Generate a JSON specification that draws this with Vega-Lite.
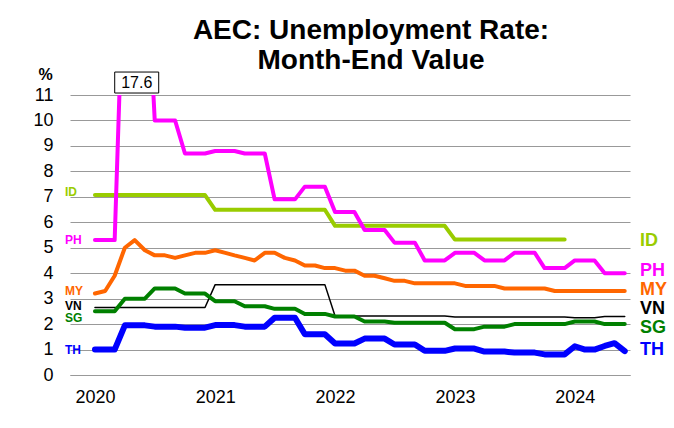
{
"$schema": "https://vega.github.io/schema/vega-lite/v6.json",
"width": 560, "height": 280,
"autosize": {"type": "none"},
"padding": {"left": 70, "top": 95, "right": 44, "bottom": 53},
"background": "white",
"config": {"view": {"stroke": null}, "font": "Liberation Sans"},
"title": {"text": ["AEC: Unemployment Rate:", "Month-End Value"], "font": "Liberation Sans", "fontSize": 28, "fontWeight": "bold", "color": "black", "lineHeight": 30, "anchor": "middle", "dx": 21, "offset": -9},
"datasets": {"main": [
{"series":"ID","date":"2020-01-01","rate":7.07},{"series":"ID","date":"2020-02-01","rate":7.07},{"series":"ID","date":"2020-03-01","rate":7.07},{"series":"ID","date":"2020-04-01","rate":7.07},{"series":"ID","date":"2020-05-01","rate":7.07},{"series":"ID","date":"2020-06-01","rate":7.07},{"series":"ID","date":"2020-07-01","rate":7.07},{"series":"ID","date":"2020-08-01","rate":7.07},{"series":"ID","date":"2020-09-01","rate":7.07},{"series":"ID","date":"2020-10-01","rate":7.07},{"series":"ID","date":"2020-11-01","rate":7.07},{"series":"ID","date":"2020-12-01","rate":7.07},
{"series":"ID","date":"2021-01-01","rate":6.49},{"series":"ID","date":"2021-02-01","rate":6.49},{"series":"ID","date":"2021-03-01","rate":6.49},{"series":"ID","date":"2021-04-01","rate":6.49},{"series":"ID","date":"2021-05-01","rate":6.49},{"series":"ID","date":"2021-06-01","rate":6.49},{"series":"ID","date":"2021-07-01","rate":6.49},{"series":"ID","date":"2021-08-01","rate":6.49},{"series":"ID","date":"2021-09-01","rate":6.49},{"series":"ID","date":"2021-10-01","rate":6.49},{"series":"ID","date":"2021-11-01","rate":6.49},{"series":"ID","date":"2021-12-01","rate":6.49},
{"series":"ID","date":"2022-01-01","rate":5.86},{"series":"ID","date":"2022-02-01","rate":5.86},{"series":"ID","date":"2022-03-01","rate":5.86},{"series":"ID","date":"2022-04-01","rate":5.86},{"series":"ID","date":"2022-05-01","rate":5.86},{"series":"ID","date":"2022-06-01","rate":5.86},{"series":"ID","date":"2022-07-01","rate":5.86},{"series":"ID","date":"2022-08-01","rate":5.86},{"series":"ID","date":"2022-09-01","rate":5.86},{"series":"ID","date":"2022-10-01","rate":5.86},{"series":"ID","date":"2022-11-01","rate":5.86},{"series":"ID","date":"2022-12-01","rate":5.86},
{"series":"ID","date":"2023-01-01","rate":5.32},{"series":"ID","date":"2023-02-01","rate":5.32},{"series":"ID","date":"2023-03-01","rate":5.32},{"series":"ID","date":"2023-04-01","rate":5.32},{"series":"ID","date":"2023-05-01","rate":5.32},{"series":"ID","date":"2023-06-01","rate":5.32},{"series":"ID","date":"2023-07-01","rate":5.32},{"series":"ID","date":"2023-08-01","rate":5.32},{"series":"ID","date":"2023-09-01","rate":5.32},{"series":"ID","date":"2023-10-01","rate":5.32},{"series":"ID","date":"2023-11-01","rate":5.32},{"series":"ID","date":"2023-12-01","rate":5.32},
{"series":"PH","date":"2020-01-01","rate":5.3},{"series":"PH","date":"2020-02-01","rate":5.3},{"series":"PH","date":"2020-03-01","rate":5.3},{"series":"PH","date":"2020-04-01","rate":17.6},{"series":"PH","date":"2020-05-01","rate":17.6},{"series":"PH","date":"2020-06-01","rate":17.6},{"series":"PH","date":"2020-07-01","rate":10.0},{"series":"PH","date":"2020-08-01","rate":10.0},{"series":"PH","date":"2020-09-01","rate":10.0},{"series":"PH","date":"2020-10-01","rate":8.7},{"series":"PH","date":"2020-11-01","rate":8.7},{"series":"PH","date":"2020-12-01","rate":8.7},
{"series":"PH","date":"2021-01-01","rate":8.8},{"series":"PH","date":"2021-02-01","rate":8.8},{"series":"PH","date":"2021-03-01","rate":8.8},{"series":"PH","date":"2021-04-01","rate":8.7},{"series":"PH","date":"2021-05-01","rate":8.7},{"series":"PH","date":"2021-06-01","rate":8.7},{"series":"PH","date":"2021-07-01","rate":6.9},{"series":"PH","date":"2021-08-01","rate":6.9},{"series":"PH","date":"2021-09-01","rate":6.9},{"series":"PH","date":"2021-10-01","rate":7.4},{"series":"PH","date":"2021-11-01","rate":7.4},{"series":"PH","date":"2021-12-01","rate":7.4},
{"series":"PH","date":"2022-01-01","rate":6.4},{"series":"PH","date":"2022-02-01","rate":6.4},{"series":"PH","date":"2022-03-01","rate":6.4},{"series":"PH","date":"2022-04-01","rate":5.7},{"series":"PH","date":"2022-05-01","rate":5.7},{"series":"PH","date":"2022-06-01","rate":5.7},{"series":"PH","date":"2022-07-01","rate":5.2},{"series":"PH","date":"2022-08-01","rate":5.2},{"series":"PH","date":"2022-09-01","rate":5.2},{"series":"PH","date":"2022-10-01","rate":4.5},{"series":"PH","date":"2022-11-01","rate":4.5},{"series":"PH","date":"2022-12-01","rate":4.5},
{"series":"PH","date":"2023-01-01","rate":4.8},{"series":"PH","date":"2023-02-01","rate":4.8},{"series":"PH","date":"2023-03-01","rate":4.8},{"series":"PH","date":"2023-04-01","rate":4.5},{"series":"PH","date":"2023-05-01","rate":4.5},{"series":"PH","date":"2023-06-01","rate":4.5},{"series":"PH","date":"2023-07-01","rate":4.8},{"series":"PH","date":"2023-08-01","rate":4.8},{"series":"PH","date":"2023-09-01","rate":4.8},{"series":"PH","date":"2023-10-01","rate":4.2},{"series":"PH","date":"2023-11-01","rate":4.2},{"series":"PH","date":"2023-12-01","rate":4.2},
{"series":"PH","date":"2024-01-01","rate":4.5},{"series":"PH","date":"2024-02-01","rate":4.5},{"series":"PH","date":"2024-03-01","rate":4.5},{"series":"PH","date":"2024-04-01","rate":4.0},{"series":"PH","date":"2024-05-01","rate":4.0},{"series":"PH","date":"2024-06-01","rate":4.0},
{"series":"MY","date":"2020-01-01","rate":3.2},{"series":"MY","date":"2020-02-01","rate":3.3},{"series":"MY","date":"2020-03-01","rate":3.9},{"series":"MY","date":"2020-04-01","rate":5.0},{"series":"MY","date":"2020-05-01","rate":5.3},{"series":"MY","date":"2020-06-01","rate":4.9},{"series":"MY","date":"2020-07-01","rate":4.7},{"series":"MY","date":"2020-08-01","rate":4.7},{"series":"MY","date":"2020-09-01","rate":4.6},{"series":"MY","date":"2020-10-01","rate":4.7},{"series":"MY","date":"2020-11-01","rate":4.8},{"series":"MY","date":"2020-12-01","rate":4.8},
{"series":"MY","date":"2021-01-01","rate":4.9},{"series":"MY","date":"2021-02-01","rate":4.8},{"series":"MY","date":"2021-03-01","rate":4.7},{"series":"MY","date":"2021-04-01","rate":4.6},{"series":"MY","date":"2021-05-01","rate":4.5},{"series":"MY","date":"2021-06-01","rate":4.8},{"series":"MY","date":"2021-07-01","rate":4.8},{"series":"MY","date":"2021-08-01","rate":4.6},{"series":"MY","date":"2021-09-01","rate":4.5},{"series":"MY","date":"2021-10-01","rate":4.3},{"series":"MY","date":"2021-11-01","rate":4.3},{"series":"MY","date":"2021-12-01","rate":4.2},
{"series":"MY","date":"2022-01-01","rate":4.2},{"series":"MY","date":"2022-02-01","rate":4.1},{"series":"MY","date":"2022-03-01","rate":4.1},{"series":"MY","date":"2022-04-01","rate":3.9},{"series":"MY","date":"2022-05-01","rate":3.9},{"series":"MY","date":"2022-06-01","rate":3.8},{"series":"MY","date":"2022-07-01","rate":3.7},{"series":"MY","date":"2022-08-01","rate":3.7},{"series":"MY","date":"2022-09-01","rate":3.6},{"series":"MY","date":"2022-10-01","rate":3.6},{"series":"MY","date":"2022-11-01","rate":3.6},{"series":"MY","date":"2022-12-01","rate":3.6},
{"series":"MY","date":"2023-01-01","rate":3.6},{"series":"MY","date":"2023-02-01","rate":3.5},{"series":"MY","date":"2023-03-01","rate":3.5},{"series":"MY","date":"2023-04-01","rate":3.5},{"series":"MY","date":"2023-05-01","rate":3.5},{"series":"MY","date":"2023-06-01","rate":3.4},{"series":"MY","date":"2023-07-01","rate":3.4},{"series":"MY","date":"2023-08-01","rate":3.4},{"series":"MY","date":"2023-09-01","rate":3.4},{"series":"MY","date":"2023-10-01","rate":3.4},{"series":"MY","date":"2023-11-01","rate":3.3},{"series":"MY","date":"2023-12-01","rate":3.3},
{"series":"MY","date":"2024-01-01","rate":3.3},{"series":"MY","date":"2024-02-01","rate":3.3},{"series":"MY","date":"2024-03-01","rate":3.3},{"series":"MY","date":"2024-04-01","rate":3.3},{"series":"MY","date":"2024-05-01","rate":3.3},{"series":"MY","date":"2024-06-01","rate":3.3},
{"series":"VN","date":"2020-01-01","rate":2.65},{"series":"VN","date":"2020-02-01","rate":2.65},{"series":"VN","date":"2020-03-01","rate":2.65},{"series":"VN","date":"2020-04-01","rate":2.65},{"series":"VN","date":"2020-05-01","rate":2.65},{"series":"VN","date":"2020-06-01","rate":2.65},{"series":"VN","date":"2020-07-01","rate":2.65},{"series":"VN","date":"2020-08-01","rate":2.65},{"series":"VN","date":"2020-09-01","rate":2.65},{"series":"VN","date":"2020-10-01","rate":2.65},{"series":"VN","date":"2020-11-01","rate":2.65},{"series":"VN","date":"2020-12-01","rate":2.65},
{"series":"VN","date":"2021-01-01","rate":3.55},{"series":"VN","date":"2021-02-01","rate":3.55},{"series":"VN","date":"2021-03-01","rate":3.55},{"series":"VN","date":"2021-04-01","rate":3.55},{"series":"VN","date":"2021-05-01","rate":3.55},{"series":"VN","date":"2021-06-01","rate":3.55},{"series":"VN","date":"2021-07-01","rate":3.55},{"series":"VN","date":"2021-08-01","rate":3.55},{"series":"VN","date":"2021-09-01","rate":3.55},{"series":"VN","date":"2021-10-01","rate":3.55},{"series":"VN","date":"2021-11-01","rate":3.55},{"series":"VN","date":"2021-12-01","rate":3.55},
{"series":"VN","date":"2022-01-01","rate":2.32},{"series":"VN","date":"2022-02-01","rate":2.32},{"series":"VN","date":"2022-03-01","rate":2.32},{"series":"VN","date":"2022-04-01","rate":2.32},{"series":"VN","date":"2022-05-01","rate":2.32},{"series":"VN","date":"2022-06-01","rate":2.32},{"series":"VN","date":"2022-07-01","rate":2.32},{"series":"VN","date":"2022-08-01","rate":2.32},{"series":"VN","date":"2022-09-01","rate":2.32},{"series":"VN","date":"2022-10-01","rate":2.32},{"series":"VN","date":"2022-11-01","rate":2.32},{"series":"VN","date":"2022-12-01","rate":2.32},
{"series":"VN","date":"2023-01-01","rate":2.28},{"series":"VN","date":"2023-02-01","rate":2.28},{"series":"VN","date":"2023-03-01","rate":2.28},{"series":"VN","date":"2023-04-01","rate":2.28},{"series":"VN","date":"2023-05-01","rate":2.28},{"series":"VN","date":"2023-06-01","rate":2.28},{"series":"VN","date":"2023-07-01","rate":2.28},{"series":"VN","date":"2023-08-01","rate":2.28},{"series":"VN","date":"2023-09-01","rate":2.28},{"series":"VN","date":"2023-10-01","rate":2.28},{"series":"VN","date":"2023-11-01","rate":2.28},{"series":"VN","date":"2023-12-01","rate":2.28},
{"series":"VN","date":"2024-01-01","rate":2.25},{"series":"VN","date":"2024-02-01","rate":2.25},{"series":"VN","date":"2024-03-01","rate":2.25},{"series":"VN","date":"2024-04-01","rate":2.3},{"series":"VN","date":"2024-05-01","rate":2.3},{"series":"VN","date":"2024-06-01","rate":2.3},
{"series":"SG","date":"2020-01-01","rate":2.5},{"series":"SG","date":"2020-02-01","rate":2.5},{"series":"SG","date":"2020-03-01","rate":2.5},{"series":"SG","date":"2020-04-01","rate":3.0},{"series":"SG","date":"2020-05-01","rate":3.0},{"series":"SG","date":"2020-06-01","rate":3.0},{"series":"SG","date":"2020-07-01","rate":3.4},{"series":"SG","date":"2020-08-01","rate":3.4},{"series":"SG","date":"2020-09-01","rate":3.4},{"series":"SG","date":"2020-10-01","rate":3.2},{"series":"SG","date":"2020-11-01","rate":3.2},{"series":"SG","date":"2020-12-01","rate":3.2},
{"series":"SG","date":"2021-01-01","rate":2.9},{"series":"SG","date":"2021-02-01","rate":2.9},{"series":"SG","date":"2021-03-01","rate":2.9},{"series":"SG","date":"2021-04-01","rate":2.7},{"series":"SG","date":"2021-05-01","rate":2.7},{"series":"SG","date":"2021-06-01","rate":2.7},{"series":"SG","date":"2021-07-01","rate":2.6},{"series":"SG","date":"2021-08-01","rate":2.6},{"series":"SG","date":"2021-09-01","rate":2.6},{"series":"SG","date":"2021-10-01","rate":2.4},{"series":"SG","date":"2021-11-01","rate":2.4},{"series":"SG","date":"2021-12-01","rate":2.4},
{"series":"SG","date":"2022-01-01","rate":2.3},{"series":"SG","date":"2022-02-01","rate":2.3},{"series":"SG","date":"2022-03-01","rate":2.3},{"series":"SG","date":"2022-04-01","rate":2.1},{"series":"SG","date":"2022-05-01","rate":2.1},{"series":"SG","date":"2022-06-01","rate":2.1},{"series":"SG","date":"2022-07-01","rate":2.05},{"series":"SG","date":"2022-08-01","rate":2.05},{"series":"SG","date":"2022-09-01","rate":2.05},{"series":"SG","date":"2022-10-01","rate":2.05},{"series":"SG","date":"2022-11-01","rate":2.05},{"series":"SG","date":"2022-12-01","rate":2.05},
{"series":"SG","date":"2023-01-01","rate":1.8},{"series":"SG","date":"2023-02-01","rate":1.8},{"series":"SG","date":"2023-03-01","rate":1.8},{"series":"SG","date":"2023-04-01","rate":1.9},{"series":"SG","date":"2023-05-01","rate":1.9},{"series":"SG","date":"2023-06-01","rate":1.9},{"series":"SG","date":"2023-07-01","rate":2.0},{"series":"SG","date":"2023-08-01","rate":2.0},{"series":"SG","date":"2023-09-01","rate":2.0},{"series":"SG","date":"2023-10-01","rate":2.0},{"series":"SG","date":"2023-11-01","rate":2.0},{"series":"SG","date":"2023-12-01","rate":2.0},
{"series":"SG","date":"2024-01-01","rate":2.1},{"series":"SG","date":"2024-02-01","rate":2.1},{"series":"SG","date":"2024-03-01","rate":2.1},{"series":"SG","date":"2024-04-01","rate":2.0},{"series":"SG","date":"2024-05-01","rate":2.0},{"series":"SG","date":"2024-06-01","rate":2.0},
{"series":"TH","date":"2020-01-01","rate":1.0},{"series":"TH","date":"2020-02-01","rate":1.0},{"series":"TH","date":"2020-03-01","rate":1.0},{"series":"TH","date":"2020-04-01","rate":1.95},{"series":"TH","date":"2020-05-01","rate":1.95},{"series":"TH","date":"2020-06-01","rate":1.95},{"series":"TH","date":"2020-07-01","rate":1.9},{"series":"TH","date":"2020-08-01","rate":1.9},{"series":"TH","date":"2020-09-01","rate":1.9},{"series":"TH","date":"2020-10-01","rate":1.86},{"series":"TH","date":"2020-11-01","rate":1.86},{"series":"TH","date":"2020-12-01","rate":1.86},
{"series":"TH","date":"2021-01-01","rate":1.96},{"series":"TH","date":"2021-02-01","rate":1.96},{"series":"TH","date":"2021-03-01","rate":1.96},{"series":"TH","date":"2021-04-01","rate":1.9},{"series":"TH","date":"2021-05-01","rate":1.9},{"series":"TH","date":"2021-06-01","rate":1.9},{"series":"TH","date":"2021-07-01","rate":2.25},{"series":"TH","date":"2021-08-01","rate":2.25},{"series":"TH","date":"2021-09-01","rate":2.25},{"series":"TH","date":"2021-10-01","rate":1.6},{"series":"TH","date":"2021-11-01","rate":1.6},{"series":"TH","date":"2021-12-01","rate":1.6},
{"series":"TH","date":"2022-01-01","rate":1.24},{"series":"TH","date":"2022-02-01","rate":1.24},{"series":"TH","date":"2022-03-01","rate":1.24},{"series":"TH","date":"2022-04-01","rate":1.43},{"series":"TH","date":"2022-05-01","rate":1.43},{"series":"TH","date":"2022-06-01","rate":1.43},{"series":"TH","date":"2022-07-01","rate":1.2},{"series":"TH","date":"2022-08-01","rate":1.2},{"series":"TH","date":"2022-09-01","rate":1.2},{"series":"TH","date":"2022-10-01","rate":0.95},{"series":"TH","date":"2022-11-01","rate":0.95},{"series":"TH","date":"2022-12-01","rate":0.95},
{"series":"TH","date":"2023-01-01","rate":1.04},{"series":"TH","date":"2023-02-01","rate":1.04},{"series":"TH","date":"2023-03-01","rate":1.04},{"series":"TH","date":"2023-04-01","rate":0.92},{"series":"TH","date":"2023-05-01","rate":0.92},{"series":"TH","date":"2023-06-01","rate":0.92},{"series":"TH","date":"2023-07-01","rate":0.88},{"series":"TH","date":"2023-08-01","rate":0.88},{"series":"TH","date":"2023-09-01","rate":0.88},{"series":"TH","date":"2023-10-01","rate":0.81},{"series":"TH","date":"2023-11-01","rate":0.81},{"series":"TH","date":"2023-12-01","rate":0.81},
{"series":"TH","date":"2024-01-01","rate":1.13},{"series":"TH","date":"2024-02-01","rate":1.0},{"series":"TH","date":"2024-03-01","rate":1.0},{"series":"TH","date":"2024-04-01","rate":1.14},{"series":"TH","date":"2024-05-01","rate":1.25},{"series":"TH","date":"2024-06-01","rate":0.94}
]},
"encoding": {
  "x": {"field": "date", "type": "temporal",
    "scale": {"type": "utc", "domain": [{"year": 2019, "month": 10, "date": 17, "utc": true}, {"year": 2024, "month": 6, "date": 17, "utc": true}]},
    "axis": {"title": null, "format": "%Y", "values": [{"year": 2020, "month": 1, "date": 1, "utc": true}, {"year": 2021, "month": 1, "date": 1, "utc": true}, {"year": 2022, "month": 1, "date": 1, "utc": true}, {"year": 2023, "month": 1, "date": 1, "utc": true}, {"year": 2024, "month": 1, "date": 1, "utc": true}],
      "grid": false, "ticks": false, "domain": true, "domainColor": "#999999", "domainWidth": 1,
      "labelFont": "Liberation Sans", "labelFontSize": 18, "labelColor": "black", "labelPadding": 13, "labelFlush": false, "labelOverlap": false}},
  "y": {"field": "rate", "type": "quantitative",
    "scale": {"domain": [0, 11], "nice": false, "zero": true},
    "axis": {"values": [0,1,2,3,4,5,6,7,8,9,10,11], "tickCount": 12, "labelOverlap": false, "grid": true, "gridColor": "#999999", "gridWidth": 1, "domain": false, "ticks": false,
      "labelFont": "Liberation Sans", "labelFontSize": 18, "labelColor": "black", "labelPadding": 17,
      "title": "%", "titleAngle": 0, "titleFont": "Liberation Sans", "titleFontSize": 16, "titleFontWeight": "bold", "titleColor": "black",
      "titleX": -25, "titleY": -21, "titleAlign": "center", "titleBaseline": "middle"}},
  "color": {"field": "series", "type": "nominal", "legend": null,
    "scale": {"domain": ["ID", "PH", "MY", "VN", "SG", "TH"], "range": ["#99CC00", "#FF00FF", "#FF6600", "#000000", "#008000", "#0000FF"]}}
},
"layer": [
  {"data": {"name": "main"},
   "mark": {"type": "line", "clip": true, "strokeCap": "round", "strokeJoin": "round"},
   "encoding": {
     "strokeWidth": {"condition": [{"test": "datum.series === 'VN'", "value": 1.5}, {"test": "datum.series === 'TH'", "value": 6}], "value": 4}
   }},
  {"data": {"name": "main"},
   "transform": [{"window": [{"op": "row_number", "as": "rn"}], "groupby": ["series"], "sort": [{"field": "date", "order": "ascending"}]}, {"filter": "datum.rn === 1"}],
   "mark": {"type": "text", "align": "left", "baseline": "middle", "font": "Liberation Sans", "fontSize": 12, "fontWeight": "bold", "dx": -5,
     "dy": {"expr": "datum.series === 'SG' ? 7 : (datum.series === 'ID' || datum.series === 'MY') ? -3 : datum.series === 'VN' ? -2 : 0"}},
   "encoding": {"x": {"value": 0}, "text": {"field": "series"}}},
  {"data": {"name": "main"},
   "transform": [{"window": [{"op": "row_number", "as": "rn"}], "groupby": ["series"], "sort": [{"field": "date", "order": "descending"}]}, {"filter": "datum.rn === 1"}],
   "mark": {"type": "text", "align": "left", "baseline": "middle", "font": "Liberation Sans", "fontSize": 18, "fontWeight": "bold", "dx": 10,
     "dy": {"expr": "datum.series === 'VN' ? -7.5 : datum.series === 'SG' ? 3.5 : datum.series === 'PH' ? -2.5 : datum.series === 'ID' ? 1 : -1"}},
   "encoding": {"x": {"value": "width"}, "text": {"field": "series"}}},
  {"data": {"name": "main"},
   "transform": [{"filter": "datum.series === 'PH' && datum.rate > 11"}, {"window": [{"op": "row_number", "as": "rn"}], "sort": [{"field": "date", "order": "ascending"}]}, {"filter": "datum.rn === 2"}],
   "mark": {"type": "point", "shape": "M-1,-0.477H1V0.477H-1Z", "size": 1936, "filled": true, "fill": "white", "stroke": "black", "strokeWidth": 1, "opacity": 1, "xOffset": 2},
   "encoding": {"y": {"datum": 11.49, "type": "quantitative"}, "color": {"value": "white"}}},
  {"data": {"name": "main"},
   "transform": [{"filter": "datum.series === 'PH' && datum.rate > 11"}, {"window": [{"op": "row_number", "as": "rn"}], "sort": [{"field": "date", "order": "ascending"}]}, {"filter": "datum.rn === 2"}],
   "mark": {"type": "text", "align": "center", "baseline": "middle", "font": "Liberation Sans", "fontSize": 16, "xOffset": 2},
   "encoding": {"y": {"datum": 11.49, "type": "quantitative"}, "text": {"field": "rate", "type": "quantitative", "format": ".1f"}, "color": {"value": "black"}}}
]
}
